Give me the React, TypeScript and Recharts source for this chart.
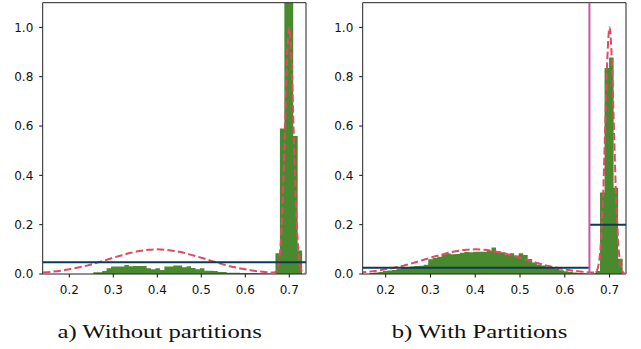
import {
  ComposedChart,
  Area,
  Line,
  XAxis,
  YAxis,
  ReferenceLine,
  ReferenceArea,
} from "recharts";

// histogram bins (same grid in both panels)
const BIN_START = 0.2545;
const BIN_WIDTH = 0.0101;

// a) without partitions: bins from BIN_START
const leftHeights = [
  0.007, 0.007, 0.012, 0.023, 0.03, 0.03, 0.03, 0.036, 0.031, 0.032,
  0.032, 0.032, 0.023, 0.019, 0.023, 0.016, 0.03, 0.03, 0.034, 0.034,
  0.027, 0.031, 0.024, 0.019, 0.023, 0.0135, 0.0135, 0.012, 0.008, 0.008,
  0.005, 0.005, 0.005, 0.004, 0.004, 0.004, 0.004, 0.003, 0.003, 0.002,
  0.001, 0.084, 0.59, 1.6, 1.55, 0.56, 0.095,
];

// b) with partitions: bins start 9 bins earlier
const RIGHT_OFFSET = -9;
const rightHeights = [
  0.004, 0.006, 0.008, 0.012, 0.014, 0.016, 0.02, 0.024, 0.028,
  0.03, 0.032, 0.033, 0.037, 0.06, 0.065, 0.07, 0.08, 0.083, 0.08,
  0.081, 0.086, 0.089, 0.088, 0.09, 0.09, 0.09, 0.093, 0.107, 0.091,
  0.088, 0.077, 0.084, 0.075, 0.084, 0.077, 0.061, 0.047, 0.039, 0.034,
  0.03, 0.025, 0.02, 0.015, 0.011, 0.008, 0.006, 0.004, 0.003, 0.002,
  0.003, 0.012, 0.33, 0.835, 0.878, 0.35, 0.062,
];

// dashed density curve
const curveX = [
  0.14, 0.16, 0.18, 0.2, 0.22, 0.24, 0.26, 0.28, 0.3, 0.32, 0.34, 0.36,
  0.38, 0.4, 0.42, 0.44, 0.46, 0.48, 0.5, 0.52, 0.54, 0.56, 0.58, 0.6,
  0.62, 0.64, 0.655, 0.665, 0.67, 0.675, 0.68, 0.685, 0.69, 0.695, 0.7,
  0.705, 0.71, 0.715, 0.72, 0.725, 0.73, 0.735, 0.74,
];
const curveY = [
  0.006, 0.009, 0.013, 0.019, 0.026, 0.034, 0.044, 0.055, 0.066, 0.076,
  0.086, 0.093, 0.098, 0.1, 0.098, 0.093, 0.086, 0.076, 0.066, 0.055,
  0.044, 0.034, 0.026, 0.019, 0.013, 0.009, 0.006, 0.006, 0.01, 0.034,
  0.111, 0.29, 0.577, 0.872, 1.0, 0.871, 0.575, 0.288, 0.109, 0.031,
  0.007, 0.001, 0,
];

const xTicks = [0.2, 0.3, 0.4, 0.5, 0.6, 0.7];
const yTicks = [0, 0.2, 0.4, 0.6, 0.8, 1.0];

const leftDomain: [number, number] = [0.1395, 0.738];
const rightDomain: [number, number] = [0.1486, 0.7367];
const Y_MAX = 1.1;

const leftLevel = 0.0476;
const SPLIT = 0.655;
const rightLowLevel = 0.025;
const rightHighLevel = 0.2;

const GREEN = "#4a8a2f";
const RED = "#e04a62";
const NAVY = "#0c3a59";
const MAGENTA = "#c9579f";

function histData(heights: number[], offset: number) {
  const pts = heights.map((h, i) => ({
    x: BIN_START + (offset + i) * BIN_WIDTH,
    y: h,
  }));
  pts.push({
    x: BIN_START + (offset + heights.length) * BIN_WIDTH,
    y: heights[heights.length - 1],
  });
  return pts;
}

const curve = curveX.map((x, i) => ({ x, y: curveY[i] }));

const tickStyle = { fill: "#111", fontSize: 12, fontFamily: "DejaVu Sans" };

function Panel({
  heights,
  offset,
  domain,
  levels,
  split,
}: {
  heights: number[];
  offset: number;
  domain: [number, number];
  levels: { x: number; y: number }[][];
  split?: number;
}) {
  return (
    <ComposedChart
      width={320}
      height={300}
      margin={{ top: 2.7, right: 14, bottom: 0, left: 2.7 }}
    >
      <XAxis
        dataKey="x"
        type="number"
        domain={domain}
        allowDataOverflow
        ticks={xTicks}
        tickFormatter={(v: number) => v.toFixed(1)}
        tick={tickStyle}
        tickSize={3.5}
        tickMargin={7.5}
        tickLine={{ stroke: "#111" }}
        axisLine={false}
        height={26}
        interval={0}
      />
      <YAxis
        type="number"
        domain={[0, Y_MAX]}
        allowDataOverflow
        ticks={yTicks}
        tickFormatter={(v: number) => v.toFixed(1)}
        tick={tickStyle}
        tickSize={3.5}
        tickMargin={5.9}
        tickLine={{ stroke: "#111" }}
        axisLine={false}
        width={40}
        interval={0}
      />
      <Area
        data={histData(heights, offset)}
        dataKey="y"
        type="stepAfter"
        stroke="none"
        fill={GREEN}
        fillOpacity={1}
        isAnimationActive={false}
      />
      <Line
        data={curve}
        dataKey="y"
        type="monotone"
        stroke={RED}
        strokeWidth={2}
        strokeDasharray="7.4 3.2"
        dot={false}
        isAnimationActive={false}
      />
      {levels.map((seg, i) => (
        <Line
          key={i}
          data={seg}
          dataKey="y"
          type="linear"
          stroke={NAVY}
          strokeWidth={2}
          dot={false}
          isAnimationActive={false}
        />
      ))}
      {split !== undefined && (
        <ReferenceLine x={split} stroke={MAGENTA} strokeWidth={2} />
      )}
      <ReferenceArea
        x1={domain[0]}
        x2={domain[1]}
        y1={0}
        y2={Y_MAX}
        fill="none"
        fillOpacity={0}
        stroke="#222"
        strokeWidth={1}
      />
    </ComposedChart>
  );
}

const captionStyle = {
  position: "absolute" as const,
  top: 322,
  width: 320,
  textAlign: "center" as const,
  fontFamily: "Liberation Serif",
  fontSize: 19,
  lineHeight: "19px",
  color: "#111",
};

const captionText = {
  display: "inline-block",
  transform: "scaleX(1.3)",
  transformOrigin: "center",
};

export default function App() {
  return (
    <div
      style={{
        position: "absolute",
        left: 0,
        top: 0,
        width: 641,
        height: 349,
        background: "#fff",
      }}
    >
      <div style={{ position: "absolute", left: 0, top: 0 }}>
        <Panel
          heights={leftHeights}
          offset={0}
          domain={leftDomain}
          levels={[
            [
              { x: leftDomain[0], y: leftLevel },
              { x: leftDomain[1], y: leftLevel },
            ],
          ]}
        />
      </div>
      <div style={{ position: "absolute", left: 320, top: 0 }}>
        <Panel
          heights={rightHeights}
          offset={RIGHT_OFFSET}
          domain={rightDomain}
          split={SPLIT}
          levels={[
            [
              { x: rightDomain[0], y: rightLowLevel },
              { x: SPLIT, y: rightLowLevel },
            ],
            [
              { x: SPLIT, y: rightHighLevel },
              { x: rightDomain[1], y: rightHighLevel },
            ],
          ]}
        />
      </div>
      <div style={{ ...captionStyle, left: 0 }}>
        <span style={captionText}>a) Without partitions</span>
      </div>
      <div style={{ ...captionStyle, left: 320 }}>
        <span style={captionText}>b) With Partitions</span>
      </div>
    </div>
  );
}
